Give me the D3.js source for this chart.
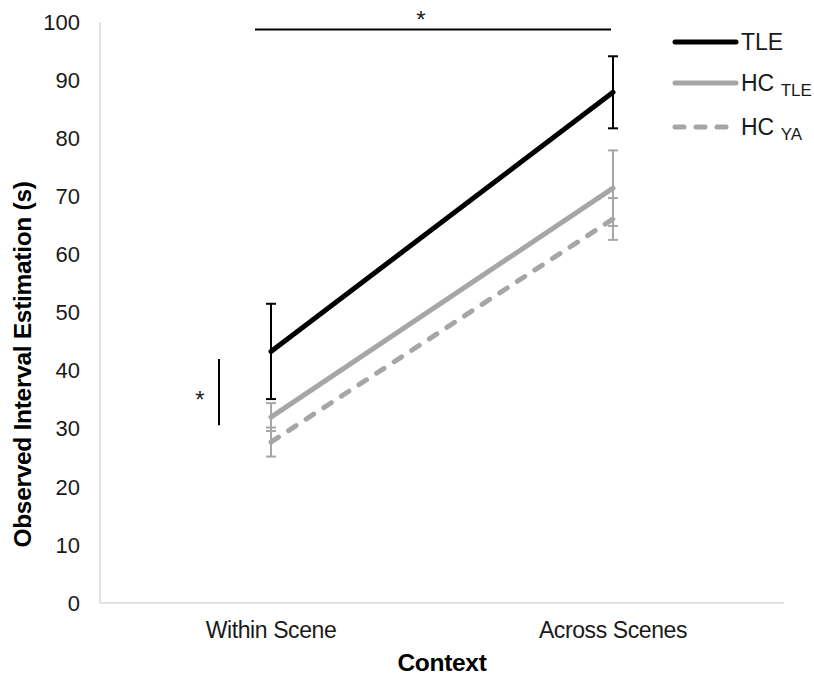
<!DOCTYPE html>
<html>
<head>
<meta charset="utf-8">
<script src="https://cdn.jsdelivr.net/npm/d3@7"></script>
<style>
  body { margin: 0; background: #fff; }
  svg { display: block; font-family: "Liberation Sans", Arial, sans-serif; }
  .tick-text { font-size: 22px; fill: #1a1a1a; }
  .cat-text { font-size: 23px; fill: #1a1a1a; letter-spacing: -0.4px; }
  .axis-title { font-size: 24.5px; font-weight: bold; fill: #000; letter-spacing: -0.3px; }
  .legend-text { font-size: 23px; fill: #1a1a1a; }
  .legend-sub { font-size: 17px; }
  .star { font-size: 24px; fill: #222; }
</style>
</head>
<body>
<div id="chart"></div>
<script>
const CONTEXTS = ["Within Scene", "Across Scenes"];
const Y_TICKS = [0, 10, 20, 30, 40, 50, 60, 70, 80, 90, 100];

const GROUPS = ["TLE", "HC TLE", "HC YA"];
const TLE_MEANS = [43.3, 87.9];
const TLE_ERRORS = [8.2, 6.2];
const HC_TLE_MEANS = [32.0, 71.4];
const HC_TLE_ERRORS = [2.4, 6.5];
const HC_YA_MEANS = [27.7, 66.1];
const HC_YA_ERRORS = [2.5, 3.6];

// significance brackets (values on the y scale)
const ACROSS_BRACKET_Y = 98.7;
const WITHIN_BRACKET = [30.6, 42.0];

const width = 814;
const height = 677;
const margin = { top: 22, right: 30, bottom: 74, left: 100 };
const plotRight = 784;

const series = [
  { name: GROUPS[0], main: "TLE", sub: "", means: TLE_MEANS, errors: TLE_ERRORS, color: "#000000", dash: null },
  { name: GROUPS[1], main: "HC ", sub: "TLE", means: HC_TLE_MEANS, errors: HC_TLE_ERRORS, color: "#a6a6a6", dash: null },
  { name: GROUPS[2], main: "HC ", sub: "YA", means: HC_YA_MEANS, errors: HC_YA_ERRORS, color: "#a6a6a6", dash: "9,12" },
];

const svg = d3.select("#chart").append("svg").attr("width", width).attr("height", height);

const x = d3.scaleBand().domain(CONTEXTS).range([margin.left, plotRight]).padding(0);
const y = d3.scaleLinear().domain([0, 100]).range([height - margin.bottom, margin.top]);
const cx = (c) => x(c) + x.bandwidth() / 2;

// axis lines
svg.append("line")
  .attr("x1", margin.left).attr("x2", margin.left)
  .attr("y1", y(100)).attr("y2", y(0))
  .attr("stroke", "#d9d9d9").attr("stroke-width", 1.5);
svg.append("line")
  .attr("x1", margin.left).attr("x2", plotRight)
  .attr("y1", y(0)).attr("y2", y(0))
  .attr("stroke", "#d9d9d9").attr("stroke-width", 1.5);

svg.append("g")
  .selectAll("text")
  .data(Y_TICKS)
  .join("text")
  .attr("class", "tick-text")
  .attr("x", 80)
  .attr("y", (d) => y(d))
  .attr("dy", "0.35em")
  .attr("text-anchor", "end")
  .text((d) => d);

svg.append("g")
  .selectAll("text")
  .data(CONTEXTS)
  .join("text")
  .attr("class", "cat-text")
  .attr("x", (d) => cx(d))
  .attr("y", 630)
  .attr("dy", "0.35em")
  .attr("text-anchor", "middle")
  .text((d) => d);

svg.append("text")
  .attr("class", "axis-title")
  .attr("x", (margin.left + plotRight) / 2)
  .attr("y", 662)
  .attr("dy", "0.35em")
  .attr("text-anchor", "middle")
  .text("Context");

svg.append("text")
  .attr("class", "axis-title")
  .attr("transform", `translate(22, ${(y(0) + y(100)) / 2 + 52}) rotate(-90)`)
  .attr("dy", "0.35em")
  .attr("text-anchor", "middle")
  .text("Observed Interval Estimation (s)");

// lines with error bars, drawn back to front
const line = d3.line().x((d) => cx(d.context)).y((d) => y(d.value));

series.slice().reverse().forEach((s) => {
  const pts = CONTEXTS.map((c, i) => ({ context: c, value: s.means[i], err: s.errors[i] }));

  const g = svg.append("g");
  g.selectAll("g.err")
    .data(pts)
    .join("g")
    .attr("class", "err")
    .each(function (d) {
      const e = d3.select(this);
      const px = cx(d.context);
      e.append("line").attr("x1", px).attr("x2", px)
        .attr("y1", y(d.value + d.err)).attr("y2", y(d.value - d.err))
        .attr("stroke", s.color).attr("stroke-width", 2);
      [d.value + d.err, d.value - d.err].forEach((v) => {
        e.append("line").attr("x1", px - 5).attr("x2", px + 5)
          .attr("y1", y(v)).attr("y2", y(v))
          .attr("stroke", s.color).attr("stroke-width", 2);
      });
    });

  g.append("path")
    .datum(pts)
    .attr("d", line)
    .attr("fill", "none")
    .attr("stroke", s.color)
    .attr("stroke-width", 5)
    .attr("stroke-linecap", "round")
    .attr("stroke-dasharray", s.dash);
});

// significance markers
svg.append("line")
  .attr("x1", cx(CONTEXTS[0]) - 16).attr("x2", cx(CONTEXTS[1]) - 2)
  .attr("y1", y(ACROSS_BRACKET_Y)).attr("y2", y(ACROSS_BRACKET_Y))
  .attr("stroke", "#000").attr("stroke-width", 2);
svg.append("text")
  .attr("class", "star")
  .attr("x", 421)
  .attr("y", y(ACROSS_BRACKET_Y) - 2)
  .attr("text-anchor", "middle")
  .text("*");

svg.append("line")
  .attr("x1", cx(CONTEXTS[0]) - 52).attr("x2", cx(CONTEXTS[0]) - 52)
  .attr("y1", y(WITHIN_BRACKET[0])).attr("y2", y(WITHIN_BRACKET[1]))
  .attr("stroke", "#000").attr("stroke-width", 2);
svg.append("text")
  .attr("class", "star")
  .attr("x", cx(CONTEXTS[0]) - 71)
  .attr("y", y((WITHIN_BRACKET[0] + WITHIN_BRACKET[1]) / 2) + 16)
  .attr("text-anchor", "middle")
  .text("*");

// legend
const legend = svg.append("g").attr("transform", "translate(675, 42)");
const rows = legend.selectAll("g").data(series).join("g")
  .attr("transform", (d, i) => `translate(0, ${[0, 41, 85][i]})`);
rows.append("line")
  .attr("x1", 0).attr("x2", 61).attr("y1", 0).attr("y2", 0)
  .attr("stroke", (d) => d.color).attr("stroke-width", 5)
  .attr("stroke-linecap", "round")
  .attr("stroke-dasharray", (d) => d.dash);
const lt = rows.append("text")
  .attr("class", "legend-text")
  .attr("x", 66)
  .attr("y", 8);
lt.append("tspan").text((d) => d.main);
lt.append("tspan").attr("class", "legend-sub").attr("dy", 5).text((d) => d.sub);
</script>
</body>
</html>
